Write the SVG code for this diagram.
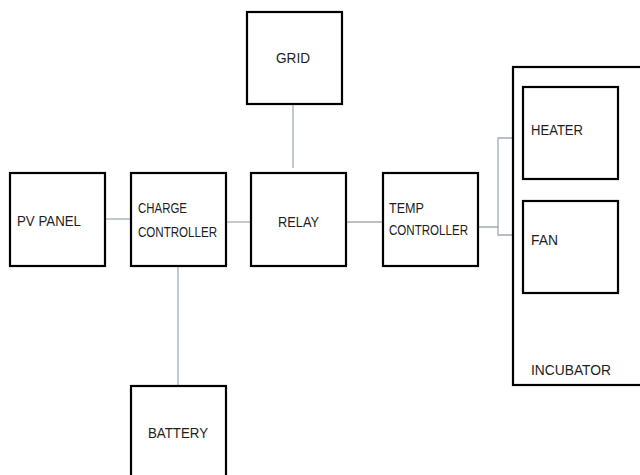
<svg xmlns="http://www.w3.org/2000/svg" width="640" height="475" viewBox="0 0 640 475">
<style>
.box{fill:#fff;stroke:#000;stroke-width:2.2}
.lbl{font-family:"Liberation Sans",Arial,sans-serif;font-size:15.5px;fill:#1e1e1e}
.con{fill:none;stroke:#9eabb7;stroke-width:1.3}
</style>
<rect width="640" height="475" fill="#fff"/>
<g id="connectors">
<line class="con" x1="105" y1="219" x2="131" y2="219"/>
<line class="con" x1="226" y1="222" x2="251" y2="222"/>
<line class="con" x1="178" y1="267" x2="178" y2="386"/>
<line class="con" x1="293" y1="104" x2="293" y2="168"/>
<line class="con" x1="346" y1="222" x2="383" y2="222"/>
<polyline class="con" points="477,227 498,227 498,138 523,138"/>
<polyline class="con" points="498,227 498,235 523,235"/>
</g>
<g id="incubator">
<rect class="box" x="513" y="67" width="130" height="318"/>
<text class="lbl" x="531" y="375" textLength="80" lengthAdjust="spacingAndGlyphs">INCUBATOR</text>
</g>
<g id="pv-panel">
<rect class="box" x="10" y="173" width="95" height="93"/>
<text class="lbl" x="17" y="226" textLength="64" lengthAdjust="spacingAndGlyphs">PV PANEL</text>
</g>
<g id="charge-controller">
<rect class="box" x="131" y="173" width="95" height="93"/>
<text class="lbl" x="138" y="213" textLength="49" lengthAdjust="spacingAndGlyphs">CHARGE</text>
<text class="lbl" x="138" y="237" textLength="79" lengthAdjust="spacingAndGlyphs">CONTROLLER</text>
</g>
<g id="battery">
<rect class="box" x="131" y="386" width="95" height="100"/>
<text class="lbl" x="148" y="438" textLength="60" lengthAdjust="spacingAndGlyphs">BATTERY</text>
</g>
<g id="grid">
<rect class="box" x="247" y="12" width="95" height="92"/>
<text class="lbl" x="276" y="63" textLength="34" lengthAdjust="spacingAndGlyphs">GRID</text>
</g>
<g id="relay">
<rect class="box" x="251" y="173" width="95" height="93"/>
<text class="lbl" x="278" y="227" textLength="41" lengthAdjust="spacingAndGlyphs">RELAY</text>
</g>
<g id="temp-controller">
<rect class="box" x="383" y="173" width="95" height="93"/>
<text class="lbl" x="389" y="213" textLength="35" lengthAdjust="spacingAndGlyphs">TEMP</text>
<text class="lbl" x="389" y="235" textLength="79" lengthAdjust="spacingAndGlyphs">CONTROLLER</text>
</g>
<g id="heater">
<rect class="box" x="523" y="87" width="95" height="92"/>
<text class="lbl" x="531" y="135" textLength="52" lengthAdjust="spacingAndGlyphs">HEATER</text>
</g>
<g id="fan">
<rect class="box" x="523" y="201" width="95" height="92"/>
<text class="lbl" x="531" y="245" textLength="27" lengthAdjust="spacingAndGlyphs">FAN</text>
</g>
</svg>
